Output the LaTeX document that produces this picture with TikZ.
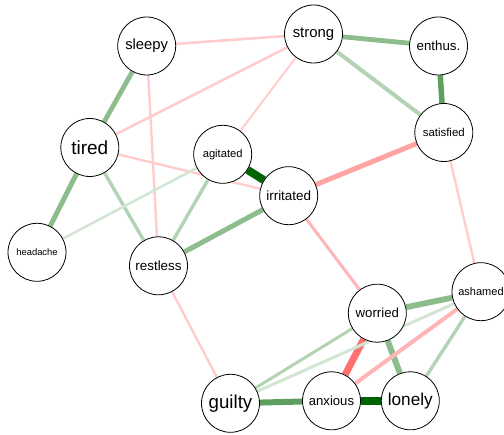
\documentclass[tikz,border=0pt]{standalone}
\usepackage{fontspec}
\setmainfont{Liberation Sans}
\usetikzlibrary{backgrounds}
\definecolor{gdark}{HTML}{006400}
\definecolor{gmid}{HTML}{5E9E5E}
\definecolor{gnorm}{HTML}{8DBD8D}
\definecolor{glight}{HTML}{B3D3B3}
\definecolor{gpale}{HTML}{D3E6D3}
\definecolor{rstrong}{HTML}{FF7070}
\definecolor{rmid}{HTML}{FFA3A3}
\definecolor{rsoft}{HTML}{FFB5B5}
\definecolor{rpale}{HTML}{FFCDCD}
\tikzset{
  var/.style={circle, draw=black, line width=0.8pt, fill=white,
    minimum size=58pt, inner sep=0pt},
  edge/.style={line width=#1},
}
\begin{document}
\begin{tikzpicture}[x=1pt,y=-1pt]
\useasboundingbox (0,0) rectangle (504,435);
% variables
\node[var] (sleepy)    at (146.7,46)   {\fontsize{14.8}{16}\selectfont sleepy};
\node[var] (strong)    at (313.5,34)   {\fontsize{14.9}{16}\selectfont strong};
\node[var] (enthus)    at (438.5,46)   {\fontsize{13.3}{15}\selectfont enthus.};
\node[var] (tired)     at (89.8,147.5) {\fontsize{19}{21}\selectfont tired};
\node[var] (agitated)  at (222.7,154.3){\fontsize{11.2}{13}\selectfont agitated};
\node[var] (satisfied) at (443.8,132.5){\fontsize{11.4}{13}\selectfont satisfied};
\node[var] (irritated) at (288.7,195.7){\fontsize{13.4}{15}\selectfont irritated};
\node[var] (headache)  at (37,252.3)   {\fontsize{9.4}{11}\selectfont headache};
\node[var] (restless)  at (158.5,265.8){\fontsize{13.4}{15}\selectfont restless};
\node[var] (worried)   at (377.3,313.2){\fontsize{13.2}{15}\selectfont worried};
\node[var] (ashamed)   at (481,291.7)  {\fontsize{11}{13}\selectfont ashamed};
\node[var] (guilty)    at (230.5,403.3){\fontsize{18.7}{20}\selectfont guilty};
\node[var] (anxious)   at (331.5,400.8){\fontsize{13.1}{15}\selectfont anxious};
\node[var] (lonely)    at (410.3,400.8){\fontsize{17.2}{19}\selectfont lonely};
% connections
\begin{scope}[on background layer]
\draw[rpale, edge=2.6pt] (sleepy) -- (strong);
\draw[gnorm, edge=4.8pt] (sleepy) -- (tired);
\draw[rpale, edge=2.4pt] (sleepy) -- (restless);
\draw[rpale, edge=2.6pt] (tired) -- (strong);
\draw[rpale, edge=2.4pt] (tired) -- (irritated);
\draw[gnorm, edge=5pt] (tired) -- (headache);
\draw[glight, edge=3.4pt] (tired) -- (restless);
\draw[gnorm, edge=4.8pt] (strong) -- (enthus);
\draw[glight, edge=4pt] (strong) -- (satisfied);
\draw[rpale, edge=2pt] (strong) -- (agitated);
\draw[gmid, edge=5.5pt] (enthus) -- (satisfied);
\draw[rmid, edge=5pt] (satisfied) -- (irritated);
\draw[rpale, edge=2.4pt] (satisfied) -- (ashamed);
\draw[gdark, edge=8pt] (agitated) -- (irritated);
\draw[gpale, edge=2.6pt] (agitated) -- (headache);
\draw[glight, edge=3.4pt] (agitated) -- (restless);
\draw[gnorm, edge=5pt] (irritated) -- (restless);
\draw[rsoft, edge=3pt] (irritated) -- (worried);
\draw[rpale, edge=2.4pt] (restless) -- (guilty);
\draw[gnorm, edge=5.8pt] (worried) -- (ashamed);
\draw[rstrong, edge=7pt] (worried) -- (anxious);
\draw[gnorm, edge=6pt] (worried) -- (lonely);
\draw[glight, edge=3pt] (worried) -- (guilty);
\draw[gpale, edge=3pt] (ashamed) -- (guilty);
\draw[rsoft, edge=4pt] (ashamed) -- (anxious);
\draw[glight, edge=3.4pt] (ashamed) -- (lonely);
\draw[gmid, edge=6pt] (guilty) -- (anxious);
\draw[gdark, edge=8pt] (anxious) -- (lonely);
\end{scope}
\end{tikzpicture}
\end{document}
